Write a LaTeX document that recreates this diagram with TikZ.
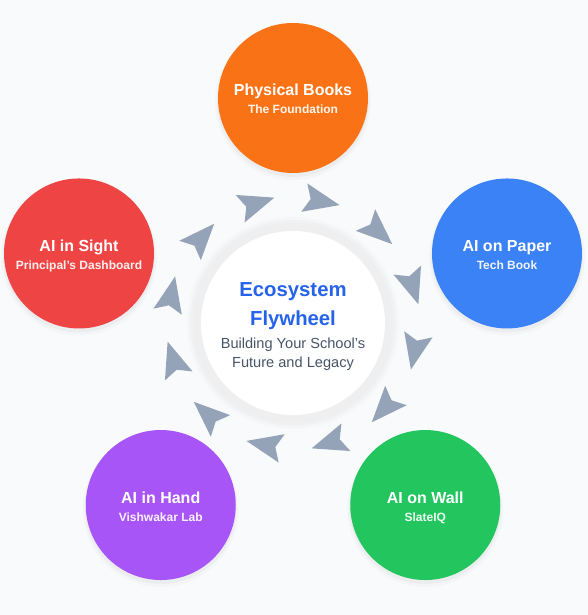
\documentclass[tikz,border=0pt]{standalone}
\usepackage{fontspec}
\setmainfont{Liberation Sans}
\definecolor{bg}{HTML}{F8FAFC}
\definecolor{corange}{HTML}{F97316}
\definecolor{cblue}{HTML}{3B82F6}
\definecolor{cgreen}{HTML}{22C55E}
\definecolor{cpurple}{HTML}{A855F7}
\definecolor{cred}{HTML}{EF4444}
\definecolor{titleblue}{HTML}{2563EB}
\definecolor{subgray}{HTML}{475569}
\definecolor{arrowc}{HTML}{94A3B8}
\definecolor{halo}{HTML}{EFEFF0}
\tikzset{
  petal/.style={circle, minimum size=150pt, inner sep=0pt},
  ptitle/.style={text=white, anchor=base, inner sep=0pt, font=\bfseries\fontsize{16}{19}\selectfont},
  psub/.style={text=white, text opacity=0.92, anchor=base, inner sep=0pt, font=\bfseries\fontsize{12}{14}\selectfont},
  htitle/.style={text=titleblue, anchor=base, inner sep=0pt, font=\bfseries\fontsize{20.3}{24}\selectfont},
  hsub/.style={text=subgray, anchor=base, inner sep=0pt, font=\fontsize{14.6}{17}\selectfont},
  flyarrow/.style={fill=arrowc}
}
\begin{document}
\begin{tikzpicture}[x=1pt,y=1pt]
\useasboundingbox (0,0) rectangle (588,615);
\fill[bg] (0,0) rectangle (588,615);
\coordinate (C) at (293,292);

% arrows
\foreach \i in {0,...,11}{
  \pgfmathsetmacro\ang{18+30*\i}
  \begin{scope}[shift={(C)}, rotate=\ang]
    \fill[flyarrow] (125,-21) -- (139.5,15) -- (125,8.5) -- (110.5,15) -- cycle;
  \end{scope}
}

% hub
\fill[black, opacity=0.015] (C) circle[radius=106pt];
\fill[black, opacity=0.02] (C) circle[radius=103pt];
\fill[halo] (C) circle[radius=100pt];
\node[circle, fill=white, minimum size=184pt, inner sep=0pt] (hub) at (C) {};
\node[htitle] (h1) at (293,318) {Ecosystem};
\node[htitle] (h2) at (293,289.7) {Flywheel};
\node[hsub] (h3) at (293,266.7) {Building Your School's};
\node[hsub] (h4) at (293,247.7) {Future and Legacy};

% petals
\foreach \nm/\ang/\col in {pb/90/corange, ap/18/cblue, aw/-54/cgreen, ah/-126/cpurple, as/162/cred}{
  \fill[black, opacity=0.02] ([shift={(\ang:225pt)}]C) ++(0,-4) circle[radius=78pt];
  \fill[black, opacity=0.03] ([shift={(\ang:225pt)}]C) ++(0,-3) circle[radius=76pt];
  \node[petal, fill=\col] (\nm) at ([shift={(\ang:225pt)}]C) {};
}

\node[ptitle] (pbt) at ([yshift=2pt]pb.center) {Physical Books};
\node[psub] (pbs) at ([yshift=-16pt]pb.center) {The Foundation};
\node[ptitle] (apt) at ([yshift=2pt]ap.center) {AI on Paper};
\node[psub] (aps) at ([yshift=-16pt]ap.center) {Tech Book};
\node[ptitle] (awt) at ([yshift=2pt]aw.center) {AI on Wall};
\node[psub] (aws) at ([yshift=-16pt]aw.center) {SlateIQ};
\node[ptitle] (aht) at ([yshift=2pt]ah.center) {AI in Hand};
\node[psub] (ahs) at ([yshift=-16pt]ah.center) {Vishwakar Lab};
\node[ptitle] (ast) at ([yshift=2pt]as.center) {AI in Sight};
\node[psub] (ass) at ([yshift=-16pt]as.center) {Principal's Dashboard};
\end{tikzpicture}
\end{document}
